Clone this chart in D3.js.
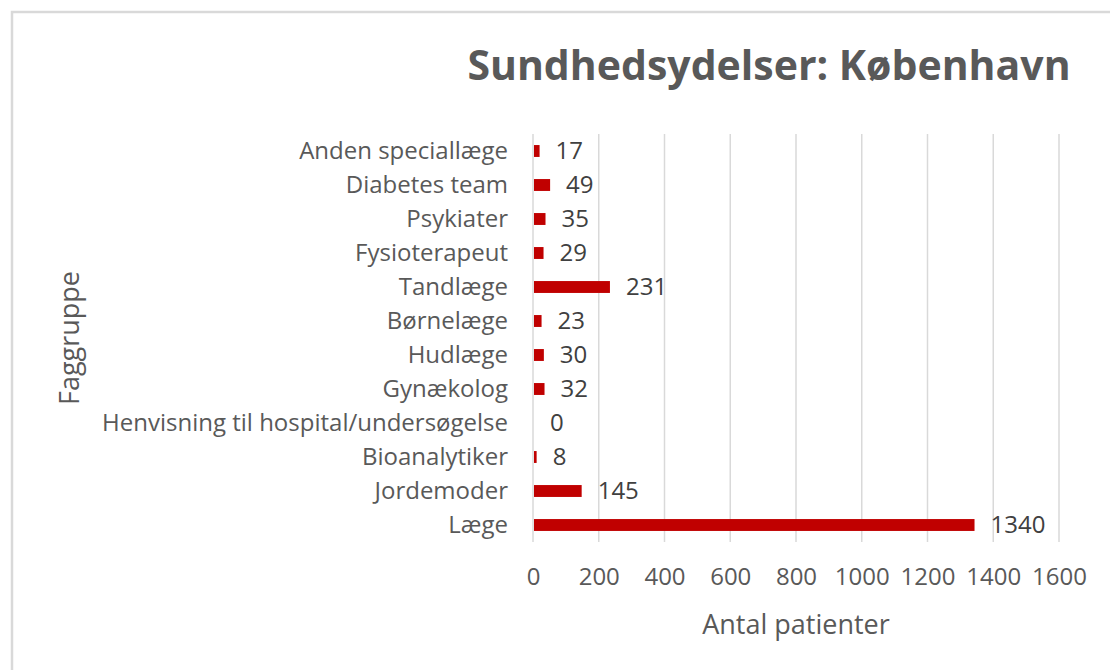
<!DOCTYPE html>
<html>
<head>
<meta charset="utf-8">
<script src="https://cdn.jsdelivr.net/npm/d3@7"></script>
<style>
  body { margin: 0; background: #fff; }
  svg, svg text { font-family: "Open Sans", sans-serif; }
</style>
</head>
<body>
<div id="chart"></div>
<script>
var categories = ["Anden speciallæge", "Diabetes team", "Psykiater", "Fysioterapeut", "Tandlæge",
    "Børnelæge", "Hudlæge", "Gynækolog", "Henvisning til hospital/undersøgelse", "Bioanalytiker",
    "Jordemoder", "Læge"];
var values = [17, 49, 35, 29, 231, 23, 30, 32, 0, 8, 145, 1340];
var xTicks = [0, 200, 400, 600, 800, 1000, 1200, 1400, 1600];

var data = categories.map(function(c, i){ return {category: c, cnt: values[i]}; });

var width = 1110, height = 670;
margin = {top: 134, right: 51, bottom: 128, left: 533};

var svg = d3.select("#chart").append("svg")
    .attr("width", width)
    .attr("height", height);

// outer chart frame, runs off the right/bottom edge like the screenshot
svg.append("rect")
    .attr("x", 12).attr("y", 12)
    .attr("width", width + 20).attr("height", height + 20)
    .style("fill", "none")
    .style("stroke", "#d9d9d9")
    .style("stroke-width", 2.5);

var plotW = width - margin.left - margin.right;
var plotH = height - margin.top - margin.bottom;

var chart = svg.append("g")
    .attr("transform", "translate(" + margin.left + "," + margin.top + ")");

var x = d3.scaleLinear().domain([0, 1600]).range([0, plotW]);
var y = d3.scaleBand().domain(categories).range([0, plotH]).paddingInner(0.65).paddingOuter(0.325);

// gridlines
chart.append("g")
    .attr("class", "grid")
    .selectAll("line")
    .data(xTicks)
    .enter().append("line")
    .attr("x1", function(d){ return x(d); })
    .attr("x2", function(d){ return x(d); })
    .attr("y1", 0)
    .attr("y2", plotH)
    .style("stroke", "#d9d9d9")
    .style("stroke-width", 1.5);

var xAxis = d3.axisBottom(x).tickValues(xTicks).tickFormat(d3.format("d")).tickSize(0).tickPadding(26);
chart.append("g")
    .attr("class", "axis axis--x")
    .attr("transform", "translate(0," + plotH + ")")
    .call(xAxis)
    .call(function(g){ g.select(".domain").remove(); })
    .selectAll("text")
    .style("font-family", "'Open Sans', sans-serif")
    .style("font-size", "24px")
    .style("fill", "#595959");

var yAxis = d3.axisLeft(y).tickSize(0).tickPadding(25);
chart.append("g")
    .attr("class", "axis axis--y")
    .call(yAxis)
    .call(function(g){ g.select(".domain").remove(); })
    .selectAll("text")
    .style("font-family", "'Open Sans', sans-serif")
    .style("font-size", "24px")
    .style("fill", "#595959");

chart.selectAll(".bar")
    .data(data)
    .enter().append("rect")
    .attr("class", "bar")
    .attr("x", x(0) + 1)
    .attr("y", function(d){ return y(d.category); })
    .attr("width", function(d){ return x(d.cnt) - x(0); })
    .attr("height", y.bandwidth())
    .style("fill", "#c00000");

chart.selectAll(".count-value")
    .data(data)
    .enter().append("text")
    .attr("class", "count-value")
    .attr("x", function(d){ return x(d.cnt) + 17; })
    .attr("y", function(d){ return y(d.category) + y.bandwidth() / 2; })
    .attr("dy", ".35em")
    .style("font-size", "24px")
    .style("fill", "#404040")
    .text(function(d){ return d.cnt; });

svg.append("text")
    .attr("x", 769)
    .attr("y", 80)
    .attr("text-anchor", "middle")
    .style("font-size", "41px")
    .style("font-weight", "bold")
    .style("fill", "#595959")
    .text("Sundhedsydelser: København");

svg.append("text")
    .attr("x", margin.left + plotW / 2)
    .attr("y", 634)
    .attr("text-anchor", "middle")
    .style("font-size", "27px")
    .style("fill", "#595959")
    .text("Antal patienter");

svg.append("text")
    .attr("transform", "translate(79," + (margin.top + plotH / 2) + ") rotate(-90)")
    .attr("text-anchor", "middle")
    .style("font-size", "27px")
    .style("fill", "#595959")
    .text("Faggruppe");
</script>
</body>
</html>
